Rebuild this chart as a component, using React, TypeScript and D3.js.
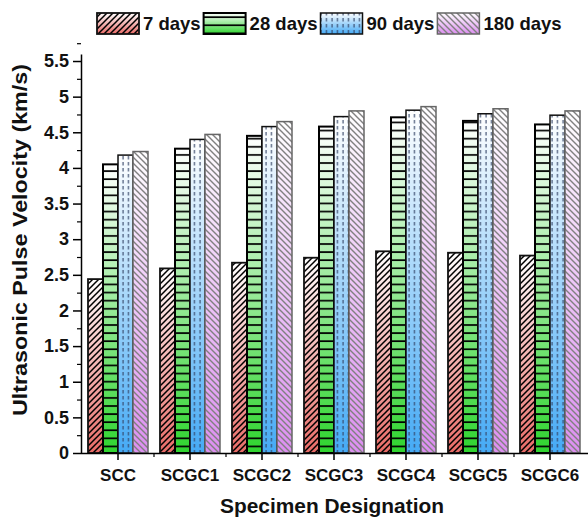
import React, { useRef, useEffect } from 'react';
import * as d3 from 'd3';

const categories = ['SCC', 'SCGC1', 'SCGC2', 'SCGC3', 'SCGC4', 'SCGC5', 'SCGC6'];
const seriesNames = ['7 days', '28 days', '90 days', '180 days'];
const days7 = [2.44, 2.59, 2.67, 2.74, 2.83, 2.81, 2.77];
const days28 = [4.05, 4.27, 4.45, 4.58, 4.71, 4.66, 4.61];
const days90 = [4.18, 4.40, 4.58, 4.72, 4.81, 4.76, 4.74];
const days180 = [4.23, 4.47, 4.65, 4.80, 4.86, 4.83, 4.80];
const yTicks = [0, 0.5, 1, 1.5, 2, 2.5, 3, 3.5, 4, 4.5, 5, 5.5];

const FONT = "'Liberation Sans', Arial, sans-serif";

const App = () => {
    const svgRef = useRef(null);

    useEffect(() => {
        const svg = d3.select(svgRef.current);
        svg.selectAll('*').remove();

        const W = 588;
        const left = 81;
        const bottom = 453;

        const values = [days7, days28, days90, days180];
        const styles = [
            { color: '#e86a66', pattern: 'p7', border: '#111', bw: 1.8 },
            { color: '#2fd42f', pattern: 'p28', border: '#000', bw: 2 },
            { color: '#45aaf5', pattern: 'p90', border: '#111', bw: 1.5 },
            { color: '#dc8ef0', pattern: 'p180', border: '#666', bw: 1.5 },
        ];

        const x0 = d3.scaleBand()
            .domain(categories)
            .range([82, 586])
            .paddingInner(1 / 6)
            .paddingOuter(1 / 12);

        const x1 = d3.scaleBand()
            .domain(seriesNames)
            .range([0, x0.bandwidth()]);

        const y = d3.scaleLinear()
            .domain([0, 5.6])
            .range([bottom, bottom - 5.6 * 71.27]);

        // gradients + hatch patterns
        const defs = svg.append('defs');
        styles.forEach((s, i) => {
            const g = defs.append('linearGradient')
                .attr('id', `grad${i}`)
                .attr('x1', 0).attr('y1', 0).attr('x2', 0).attr('y2', 1);
            g.append('stop').attr('offset', '0%').attr('stop-color', '#ffffff');
            g.append('stop').attr('offset', '100%').attr('stop-color', s.color);
        });

        const p7 = defs.append('pattern')
            .attr('id', 'p7').attr('patternUnits', 'userSpaceOnUse')
            .attr('width', 6).attr('height', 6);
        p7.append('path').attr('d', 'M-1,7 L7,-1 M-4,4 L4,-4 M2,10 L10,2')
            .attr('stroke', '#000').attr('stroke-width', 1.5);

        const p28 = defs.append('pattern')
            .attr('id', 'p28').attr('patternUnits', 'userSpaceOnUse')
            .attr('width', 10).attr('height', 8.1);
        p28.append('line').attr('x1', 0).attr('x2', 10).attr('y1', 1).attr('y2', 1)
            .attr('stroke', '#000').attr('stroke-width', 1.7);

        const p90 = defs.append('pattern')
            .attr('id', 'p90').attr('patternUnits', 'userSpaceOnUse')
            .attr('width', 5.5).attr('height', 6);
        p90.append('line').attr('x1', 2).attr('x2', 2).attr('y1', 0).attr('y2', 3.5)
            .attr('stroke', '#334466').attr('stroke-width', 1.1);

        const p180 = defs.append('pattern')
            .attr('id', 'p180').attr('patternUnits', 'userSpaceOnUse')
            .attr('width', 6).attr('height', 6);
        p180.append('path').attr('d', 'M-1,-1 L7,7 M-4,2 L4,10 M2,-4 L10,4')
            .attr('stroke', '#808080').attr('stroke-width', 1.4);

        // bars
        categories.forEach((c, ci) => {
            seriesNames.forEach((sn, si) => {
                const v = values[si][ci];
                const bx = x0(c) + x1(sn);
                const by = y(v);
                const bw = x1.bandwidth();
                const bh = bottom - by;
                const s = styles[si];
                svg.append('rect').attr('x', bx).attr('y', by).attr('width', bw).attr('height', bh)
                    .attr('fill', `url(#grad${si})`);
                svg.append('rect').attr('x', bx).attr('y', by).attr('width', bw).attr('height', bh)
                    .attr('fill', `url(#${s.pattern})`);
                svg.append('rect').attr('x', bx).attr('y', by).attr('width', bw).attr('height', bh)
                    .attr('fill', 'none').attr('stroke', s.border).attr('stroke-width', s.bw);
            });
        });

        // y axis
        const yAxis = svg.append('g')
            .attr('transform', `translate(${left},0)`)
            .call(d3.axisLeft(y).tickValues(yTicks).tickSize(8).tickSizeOuter(0)
                .tickFormat(d => String(d)));
        yAxis.select('.domain').attr('stroke', '#000').attr('stroke-width', 1.5);
        yAxis.selectAll('line').attr('stroke', '#000').attr('stroke-width', 1.5);
        yAxis.selectAll('text')
            .attr('font-family', FONT).attr('font-size', 18).attr('font-weight', 'bold')
            .attr('fill', '#111').attr('x', -12);
        svg.append('g')
            .attr('transform', `translate(${left},0)`)
            .call(d3.axisLeft(y).tickValues(yTicks.map(t => t + 0.25)).tickSize(4).tickFormat(() => ''))
            .call(g => g.select('.domain').remove())
            .selectAll('line').attr('stroke', '#000').attr('stroke-width', 1.2);

        // x axis
        const xAxis = svg.append('g')
            .attr('transform', `translate(0,${bottom})`)
            .call(d3.axisBottom(x0).tickSize(7).tickSizeOuter(0));
        xAxis.select('.domain').attr('d', `M${left},0.5H${W}`).attr('stroke', '#000').attr('stroke-width', 1.5);
        xAxis.selectAll('line').attr('stroke', '#000').attr('stroke-width', 1.5);
        xAxis.selectAll('text')
            .attr('font-family', FONT).attr('font-size', 17).attr('font-weight', 'bold')
            .attr('fill', '#111').attr('y', 16);
        const step = x0.step();
        svg.append('g')
            .selectAll('line')
            .data(categories.slice(1))
            .enter().append('line')
            .attr('x1', c => x0(c) - (step - x0.bandwidth()) / 2)
            .attr('x2', c => x0(c) - (step - x0.bandwidth()) / 2)
            .attr('y1', bottom).attr('y2', bottom + 4)
            .attr('stroke', '#000').attr('stroke-width', 1.2);

        // axis titles
        svg.append('text')
            .attr('x', 332).attr('y', 513)
            .attr('text-anchor', 'middle')
            .attr('font-family', FONT).attr('font-size', 20).attr('font-weight', 'bold')
            .attr('fill', '#111')
            .attr('textLength', 224).attr('lengthAdjust', 'spacingAndGlyphs')
            .text('Specimen Designation');
        svg.append('text')
            .attr('transform', 'translate(27,240) rotate(-90)')
            .attr('text-anchor', 'middle')
            .attr('font-family', FONT).attr('font-size', 20).attr('font-weight', 'bold')
            .attr('fill', '#111')
            .attr('textLength', 352).attr('lengthAdjust', 'spacingAndGlyphs')
            .text('Ultrasonic Pulse Velocity (km/s)');

        // legend
        let lx = 97;
        seriesNames.forEach((sn, si) => {
            const s = styles[si];
            const g = svg.append('g');
            const bw = 42;
            g.append('rect').attr('x', lx).attr('y', 13).attr('width', bw).attr('height', 21)
                .attr('fill', `url(#grad${si})`);
            g.append('rect').attr('x', lx).attr('y', 13).attr('width', bw).attr('height', 21)
                .attr('fill', `url(#${s.pattern})`);
            g.append('rect').attr('x', lx).attr('y', 13).attr('width', bw).attr('height', 21)
                .attr('fill', 'none').attr('stroke', s.border).attr('stroke-width', s.bw);
            const t = g.append('text')
                .attr('x', lx + bw + 4).attr('y', 30)
                .attr('font-family', FONT).attr('font-size', 18.5).attr('font-weight', 'bold')
                .attr('fill', '#111')
                .text(sn);
            const tw = t.node().getComputedTextLength();
            lx += bw + 4 + tw + 3;
        });
    }, []);

    return (
        <svg ref={svgRef} width={588} height={518}
            style={{ position: 'absolute', left: 0, top: 0, background: '#fff' }} />
    );
};

export default App;
